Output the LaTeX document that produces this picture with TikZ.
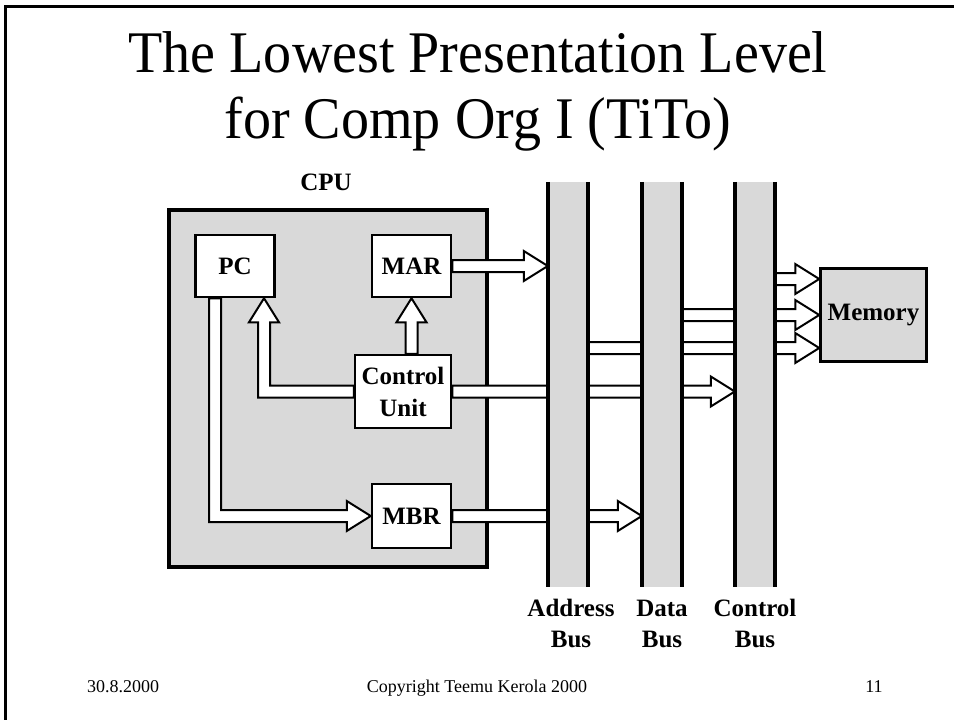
\documentclass[tikz,border=0pt]{standalone}
\usepackage{fontspec}
\usepackage{graphicx}
\setmainfont{Liberation Serif}
\usetikzlibrary{calc}
\pgfdeclarelayer{bottom}
\pgfdeclarelayer{arrowlayer}
\pgfsetlayers{bottom,arrowlayer,main}
\definecolor{panel}{RGB}{217,217,217}

% hollow arrow pointing right: start #1, tip #2 (same height as tip)
\newcommand\HArrow[2]{%
  \draw[hollow] let \p1=#1, \p2=#2 in
    (\x1,\y2+6pt) -- (\x2-24pt,\y2+6pt) -- (\x2-24pt,\y2+15pt) -- (\x2,\y2)
    -- (\x2-24pt,\y2-15pt) -- (\x2-24pt,\y2-6pt) -- (\x1,\y2-6pt) -- cycle;}
% hollow arrow pointing up: start #1 (height), tip #2
\newcommand\VArrow[2]{%
  \draw[hollow] let \p1=#1, \p2=#2 in
    (\x2-6pt,\y1) -- (\x2-6pt,\y2-24pt) -- (\x2-15pt,\y2-24pt) -- (\x2,\y2)
    -- (\x2+15pt,\y2-24pt) -- (\x2+6pt,\y2-24pt) -- (\x2+6pt,\y1) -- cycle;}
% hollow arrow going left from #1, then up to tip #2
\newcommand\LeftUpArrow[2]{%
  \draw[hollow] let \p1=#1, \p2=#2 in
    (\x1,\y1+6pt) -- (\x2+6pt,\y1+6pt) -- (\x2+6pt,\y2-24pt) -- (\x2+15pt,\y2-24pt)
    -- (\x2,\y2) -- (\x2-15pt,\y2-24pt) -- (\x2-6pt,\y2-24pt) -- (\x2-6pt,\y1-6pt)
    -- (\x1,\y1-6pt) -- cycle;}
% hollow arrow going down from #1, then right to tip #2
\newcommand\DownRightArrow[2]{%
  \draw[hollow] let \p1=#1, \p2=#2 in
    (\x1-6pt,\y1) -- (\x1-6pt,\y2-6pt) -- (\x2-24pt,\y2-6pt) -- (\x2-24pt,\y2-15pt)
    -- (\x2,\y2) -- (\x2-24pt,\y2+15pt) -- (\x2-24pt,\y2+6pt) -- (\x1+6pt,\y2+6pt)
    -- (\x1+6pt,\y1) -- cycle;}

\begin{document}
\begin{tikzpicture}[x=1pt,y=-1pt,
  hollow/.style={draw=black,fill=white,line width=2pt,line join=miter},
  reg/.style={draw=black,fill=white,line width=2.5pt,inner sep=0pt,align=center,
    font=\bfseries\fontsize{25}{32}\selectfont},
  lbl/.style={inner sep=0pt,align=center,font=\bfseries\fontsize{25}{31}\selectfont},
  busbar/.style={fill=panel,draw=none,minimum width=40pt,minimum height=405pt,inner sep=0pt},
  busline/.style={line width=3.5pt},
  foot/.style={inner sep=0pt,font=\fontsize{18}{20}\selectfont},
  titlef/.style={inner sep=0pt,font=\fontsize{59}{66}\selectfont}]
\useasboundingbox (0,0) rectangle (954,720);
\draw[line width=3pt] (5,722) -- (5,6) -- (956,6);

% title
\node[titlef,anchor=base] (t1) at (478,72) {\scalebox{0.95}[1]{The Lowest Presentation Level}};
\node[titlef,anchor=base] (t2) at (478,138) {\scalebox{0.95}[1]{for Comp Org I (TiTo)}};

% CPU
\begin{pgfonlayer}{bottom}
\node[draw=black,fill=panel,line width=3.5pt,minimum width=318pt,minimum height=357pt,inner sep=0pt] (cpu) at (328,388.5) {};
\end{pgfonlayer}
\node[lbl,anchor=base] (cpulbl) at (326,190) {CPU};

\node[reg,minimum width=79pt,minimum height=62pt] (pc) at (235,266) {PC};
\node[reg,minimum width=79pt,minimum height=62pt] (mar) at (411.5,266) {MAR};
\node[reg,minimum width=96pt,minimum height=73pt] (cu) at (403,391.5) {Control\\Unit};
\node[reg,minimum width=79pt,minimum height=64pt] (mbr) at (411.5,516) {MBR};

% buses
\node[busbar] (abus) at (568,384.5) {};
\node[busbar] (dbus) at (662,384.5) {};
\node[busbar] (cbus) at (755,384.5) {};
\foreach \b in {abus,dbus,cbus}{
  \draw[busline] (\b.north west) -- (\b.south west);
  \draw[busline] (\b.north east) -- (\b.south east);
}
\node[lbl,anchor=north] (albl) at ($(abus.south)+(3,7)$) {\strut Address\\Bus};
\node[lbl,anchor=north] (dlbl) at ($(dbus.south)+(0,7)$) {\strut Data\\Bus};
\node[lbl,anchor=north] (clbl) at ($(cbus.south)+(0,7)$) {\strut Control\\Bus};

% memory
\node[draw=black,fill=panel,line width=2.5pt,minimum width=106pt,minimum height=93pt,inner sep=0pt,
  font=\bfseries\fontsize{25}{30}\selectfont] (mem) at (873.5,315) {Memory};

\coordinate (pcu) at ($(pc.south)+(29,0)$);
\coordinate (pcd) at ($(pc.south)+(-20,0)$);
\coordinate (ma) at ($(mem.west)+(0,33)$);
\coordinate (mc) at ($(mem.west)+(0,-36)$);

\begin{pgfonlayer}{arrowlayer}
\HArrow{(mar.east)}{(abus.west |- mar.east)}
\VArrow{(mar.south |- cu.north)}{(mar.south)}
\LeftUpArrow{(cu.west)}{(pcu)}
\HArrow{(cu.east)}{(cbus.west |- cu.east)}
\DownRightArrow{(pcd)}{(mbr.west)}
\HArrow{(mbr.east)}{(dbus.west |- mbr.east)}
\HArrow{(abus.center |- ma)}{(ma)}
\HArrow{(dbus.center |- mem.west)}{(mem.west)}
\HArrow{(cbus.center |- mc)}{(mc)}
\end{pgfonlayer}

% footer
\node[foot,anchor=base west] (date) at (87,692) {30.8.2000};
\node[foot,anchor=base] (copy) at (477,692) {Copyright Teemu Kerola 2000};
\node[foot,anchor=base] (pg) at (874,692) {11};
\end{tikzpicture}
\end{document}
